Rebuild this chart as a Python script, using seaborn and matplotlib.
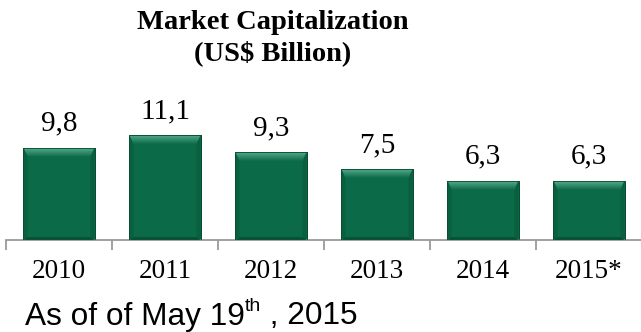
import numpy as np
import pandas as pd
import matplotlib
matplotlib.use("Agg")
import matplotlib.pyplot as plt
import seaborn as sns
from matplotlib.patches import Polygon
from matplotlib.colors import LinearSegmentedColormap

years = ["2010", "2011", "2012", "2013", "2014", "2015*"]
market_cap = [9.8, 11.1, 9.3, 7.5, 6.3, 6.3]
value_labels = ["9,8", "11,1", "9,3", "7,5", "6,3", "6,3"]

title_lines = ["Market Capitalization", "(US$ Billion)"]

sns.set_theme(style="white")
plt.rcParams["font.family"] = ["Liberation Serif", "DejaVu Serif"]
plt.rcParams["text.color"] = "black"

BAR = "#0b6a48"
EDGE = "#084a32"

fig = plt.figure(figsize=(6.41, 3.32), dpi=100)
W, H = 641, 332
ax = fig.add_axes([6 / W, 1 - 240 / H, 636 / W, 140 / H])

df = pd.DataFrame({"year": years, "cap": market_cap})
sns.barplot(data=df, x="year", y="cap", color=BAR, saturation=1,
            width=0.67, ax=ax, edgecolor=EDGE, linewidth=0.6)

ax.set_xlim(-0.5, len(years) - 0.5)
ax.set_ylim(0, 14.86)
ax.set_xlabel("")
ax.set_ylabel("")
ax.set_yticks([])
for s in ["top", "right", "left"]:
    ax.spines[s].set_visible(False)
ax.spines["bottom"].set_color("#9a9a9a")
ax.spines["bottom"].set_linewidth(1.3)

ax.set_xticks(range(len(years)))
ax.set_xticklabels(years, fontsize=19.5)
ax.set_xticks(np.arange(-0.5, len(years), 1.0), minor=True)
ax.tick_params(axis="x", which="major", length=0, pad=14, colors="black")
ax.tick_params(axis="x", which="minor", length=7, width=1.3,
               color="#9a9a9a", bottom=True)

# pixel-to-data scale for the bevel geometry
p0 = ax.transData.transform((0, 0))
p1 = ax.transData.transform((1, 1))
dx = 1.0 / (p1[0] - p0[0])
dy = 1.0 / (p1[1] - p0[1])

grad = LinearSegmentedColormap.from_list("bevel", ["#0c6b4a", "#55ab8c"])
gimg = np.linspace(0, 1, 64).reshape(-1, 1)

for patch, lab in zip(ax.patches, value_labels):
    x0, y0 = patch.get_x(), patch.get_y()
    w, h = patch.get_width(), patch.get_height()
    x1, y1 = x0 + w, y0 + h
    sx, ty, by = 4 * dx, 9 * dy, 3 * dy

    # top bevel with a vertical gradient
    top = Polygon([(x0, y1), (x1, y1), (x1 - sx, y1 - ty), (x0 + sx, y1 - ty)],
                  closed=True, facecolor="none", edgecolor="none")
    ax.add_patch(top)
    im = ax.imshow(gimg, cmap=grad, origin="lower", aspect="auto",
                   extent=(x0, x1, y1 - ty, y1), zorder=3)
    im.set_clip_path(top)

    # side bevels, slightly darker
    for poly in ([(x0, y0), (x0, y1), (x0 + sx, y1 - ty), (x0 + sx, y0 + by)],
                 [(x1, y0), (x1, y1), (x1 - sx, y1 - ty), (x1 - sx, y0 + by)]):
        ax.add_patch(Polygon(poly, closed=True, facecolor="#09603f",
                             edgecolor="none", zorder=3))
    # bottom bevel, darkest
    ax.add_patch(Polygon([(x0, y0), (x1, y0), (x1 - sx, y0 + by), (x0 + sx, y0 + by)],
                         closed=True, facecolor="#07533a", edgecolor="none", zorder=3))
    # thin outline on top
    ax.add_patch(Polygon([(x0, y0), (x0, y1), (x1, y1), (x1, y0)], closed=True,
                         facecolor="none", edgecolor=EDGE, linewidth=0.6, zorder=4))

    ax.annotate(lab, (x0 + w / 2, y1), xytext=(0, 12.5), textcoords="offset points",
                ha="center", va="baseline", fontsize=21, color="black")

ax.set_xlim(-0.5, len(years) - 0.5)
ax.set_ylim(0, 14.86)

fig.text(273 / W, 1 - 29 / H, title_lines[0], ha="center", va="baseline",
         fontsize=20.5, fontweight="bold")
fig.text(273 / W, 1 - 60 / H, title_lines[1], ha="center", va="baseline",
         fontsize=20.5, fontweight="bold")

# footnote with a superscript ordinal
sans = ["Liberation Sans", "DejaVu Sans"]
fig.canvas.draw()
r = fig.canvas.get_renderer()
t1 = fig.text(25 / W, 1 - 324.5 / H, "As of of May 19", ha="left", va="baseline",
              fontsize=22.8, family=sans)
e1 = t1.get_window_extent(r)
t2 = fig.text(e1.x1 / W, 1 - 311 / H, "th", ha="left", va="baseline",
              fontsize=14, family=sans)
e2 = t2.get_window_extent(r)
fig.text(e2.x1 / W, 1 - 324.5 / H, " , 2015", ha="left", va="baseline",
         fontsize=22.8, family=sans)

fig.savefig("out.png", dpi=100)
